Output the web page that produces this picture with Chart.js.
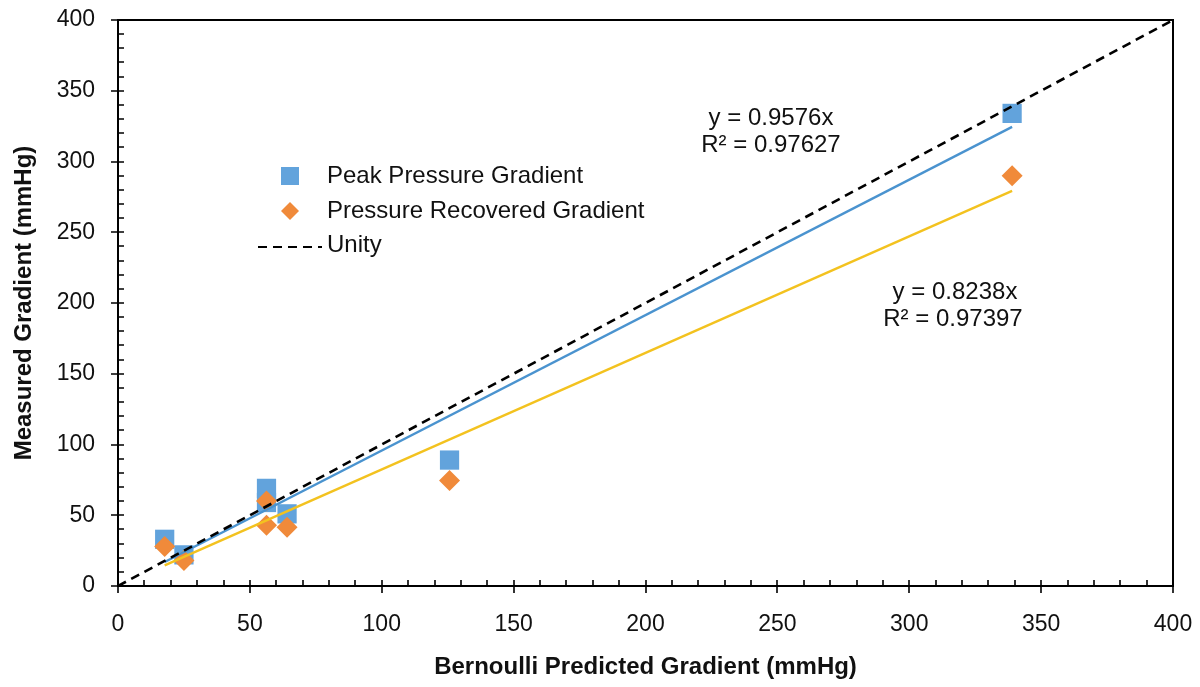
<!DOCTYPE html>
<html>
<head>
<meta charset="utf-8">
<script src="https://cdn.jsdelivr.net/npm/chart.js@4.4.1/dist/chart.umd.min.js"></script>
<style>
  html, body { margin: 0; padding: 0; background: #fff; }
  #wrap { width: 1200px; height: 687px; }
</style>
</head>
<body>
<div id="wrap"><canvas id="c" width="1200" height="687"></canvas></div>
<script>
// values
const bernoulli = [17.7, 25, 56.3, 56.3, 64.1, 125.7, 339]
const peakGradient = [33, 22, 69, 59, 51, 89, 334]
const recoveredGradient = [28, 18, 60, 43, 41.5, 74.5, 290]

const trendX = [17.7, 339]
const peakTrendY = [17, 324.5]
const recoveredTrendY = [14.6, 279.2]

const unityX = [0, 400]
const unityY = [0, 400]

const xTicks = [0, 50, 100, 150, 200, 250, 300, 350, 400]
const yTicks = [0, 50, 100, 150, 200, 250, 300, 350, 400]

const labels = ['Peak Pressure Gradient', 'Pressure Recovered Gradient', 'Unity']
const peakFit = ['y = 0.9576x', 'R² = 0.97627']
const recoveredFit = ['y = 0.8238x', 'R² = 0.97397']

const BLUE = '#62a3dc'
const ORANGE = '#f08a3a'
const BLUE_LINE = '#4a93cf'
const YELLOW_LINE = '#f3c21f'
const FONT = '"Liberation Sans", Arial, sans-serif'

const pts = (xs, ys) => xs.map((x, i) => ({ x: x, y: ys[i] }))

// minor/major tick marks, frame, legend and fit labels
const extras = {
    id: 'extras',
    afterDraw(chart) {
        const ctx = chart.ctx
        const a = chart.chartArea
        const xs = chart.scales.x
        const ys = chart.scales.y
        ctx.save()
        ctx.strokeStyle = '#000'
        ctx.lineWidth = 2
        ctx.beginPath()
        ctx.moveTo(a.left, a.top)
        ctx.lineTo(a.right, a.top)
        ctx.lineTo(a.right, a.bottom)
        ctx.stroke()

        ctx.lineWidth = 1.6
        ctx.beginPath()
        for (let v = 0; v <= 400; v += 10) {
            const px = Math.round(xs.getPixelForValue(v))
            const py = Math.round(ys.getPixelForValue(v))
            if (v % 50 === 0) {
                ctx.moveTo(px, a.bottom - 6); ctx.lineTo(px, a.bottom + 7)
                ctx.moveTo(a.left - 7, py); ctx.lineTo(a.left + 6, py)
            } else {
                ctx.moveTo(px, a.bottom); ctx.lineTo(px, a.bottom - 6)
                ctx.moveTo(a.left, py); ctx.lineTo(a.left + 6, py)
            }
        }
        ctx.stroke()

        // legend
        ctx.font = '24px ' + FONT
        ctx.textBaseline = 'middle'
        ctx.textAlign = 'left'
        const lx = 290, tx = 327
        const rows = [176, 211, 245]
        ctx.fillStyle = BLUE
        ctx.fillRect(lx - 9, rows[0] - 9, 18, 18)
        ctx.fillStyle = ORANGE
        ctx.beginPath()
        ctx.moveTo(lx, rows[1] - 9); ctx.lineTo(lx + 9, rows[1])
        ctx.lineTo(lx, rows[1] + 9); ctx.lineTo(lx - 9, rows[1])
        ctx.closePath(); ctx.fill()
        ctx.strokeStyle = '#000'
        ctx.lineWidth = 2.2
        ctx.setLineDash([9, 6])
        ctx.beginPath()
        ctx.moveTo(258, rows[2] + 2); ctx.lineTo(322, rows[2] + 2)
        ctx.stroke()
        ctx.setLineDash([])
        ctx.fillStyle = '#111'
        labels.forEach((t, i) => ctx.fillText(t, tx, rows[i]))

        // trendline labels
        ctx.textAlign = 'center'
        ctx.fillText(peakFit[0], 771, 118)
        ctx.fillText(peakFit[1], 771, 145)
        ctx.fillText(recoveredFit[0], 955, 292)
        ctx.fillText(recoveredFit[1], 953, 319)
        ctx.restore()
    }
}

const axisCommon = {
    type: 'linear',
    min: 0,
    max: 400,
    grid: { display: false, drawTicks: false },
    border: { display: true, color: '#000', width: 2 },
}

new Chart(document.getElementById('c'), {
    type: 'scatter',
    data: {
        datasets: [
            {
                label: labels[2],
                type: 'line',
                data: pts(unityX, unityY),
                borderColor: '#000',
                borderWidth: 2.6,
                borderDash: [9, 6],
                pointRadius: 0,
                fill: false
            },
            {
                label: 'peak fit',
                type: 'line',
                data: pts(trendX, peakTrendY),
                borderColor: BLUE_LINE,
                borderWidth: 2.4,
                pointRadius: 0,
                fill: false
            },
            {
                label: 'recovered fit',
                type: 'line',
                data: pts(trendX, recoveredTrendY),
                borderColor: YELLOW_LINE,
                borderWidth: 2.4,
                pointRadius: 0,
                fill: false
            },
            {
                label: labels[1],
                data: pts(bernoulli, recoveredGradient),
                pointStyle: 'rectRot',
                pointRadius: 10.5,
                pointHoverRadius: 10.5,
                backgroundColor: ORANGE,
                borderWidth: 0
            },
            {
                label: labels[0],
                data: pts(bernoulli, peakGradient),
                pointStyle: 'rect',
                pointRadius: 13.6,
                pointHoverRadius: 13.6,
                backgroundColor: BLUE,
                borderWidth: 0
            }
        ]
    },
    options: {
        responsive: false,
        animation: false,
        layout: { padding: { top: 20, right: 27, left: 0, bottom: 0 } },
        plugins: {
            legend: { display: false },
            tooltip: { enabled: false }
        },
        scales: {
            x: {
                ...axisCommon,
                afterBuildTicks: s => { s.ticks = xTicks.map(v => ({ value: v })) },
                afterFit: s => { s.height = 101; s.paddingLeft = 0; s.paddingRight = 0 },
                ticks: { color: '#111', font: { size: 23, family: FONT }, padding: 25, maxRotation: 0 },
                title: {
                    display: true,
                    text: 'Bernoulli Predicted Gradient (mmHg)',
                    color: '#111',
                    font: { size: 24, weight: 'bold', family: FONT },
                    padding: { top: 0, bottom: 5 }
                }
            },
            y: {
                ...axisCommon,
                afterBuildTicks: s => { s.ticks = yTicks.map(v => ({ value: v })) },
                afterFit: s => { s.width = 118; s.paddingTop = 0; s.paddingBottom = 0 },
                ticks: { color: '#111', font: { size: 23, family: FONT }, padding: 23 },
                title: {
                    display: true,
                    text: 'Measured Gradient (mmHg)',
                    color: '#111',
                    font: { size: 24, weight: 'bold', family: FONT },
                    padding: { top: 10, bottom: 0 }
                }
            }
        }
    },
    plugins: [extras]
})
</script>
</body>
</html>
